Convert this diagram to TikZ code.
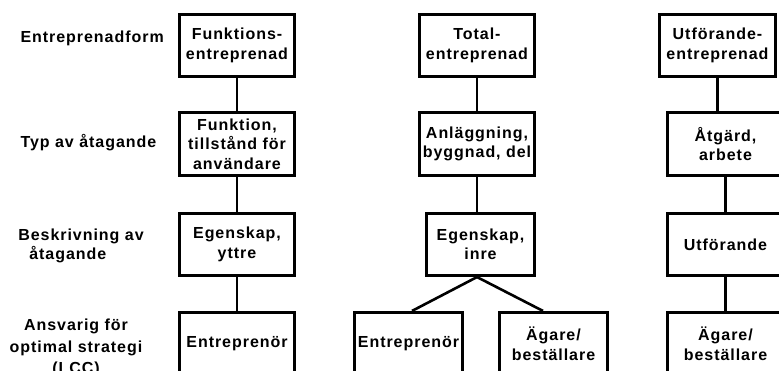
\documentclass[tikz,border=0pt]{standalone}
\usepackage{fontspec}
\setmainfont{Liberation Sans}[LetterSpace=6]
\usetikzlibrary{calc}

\begin{document}
\begin{tikzpicture}[x=1pt, y=-1pt, font=\fontsize{16}{19.5}\selectfont\bfseries]
  % Styles for the boxes and the lines between them
  \tikzset{
    box/.style={draw, line width=2.6pt, align=center,
      minimum width=115.5pt, minimum height=62.5pt, inner sep=1pt},
    narrowbox/.style={box, minimum width=108.5pt},
    link/.style={line width=2.6pt}
  }

  \useasboundingbox (0,0) rectangle (779,371);
  \clip (0,0) rectangle (779,371);

  % Row labels on the left
  \node[anchor=base west] (lform) at (17,43) {Entreprenadform};
  \node[anchor=base west] (ltyp) at (17,148) {Typ av åtagande};
  \node[align=left] (lbesk) at (81,246) {Beskrivning av\\\hspace{11pt}åtagande};
  \node[align=center, font=\fontsize{16}{21.5}\selectfont\bfseries] (lansv) at (76,348)
    {Ansvarig för\\optimal strategi\\(LCC)};

  % Funktionsentreprenad
  \node[box] (funk) at (237,45.5) {Funktions-\\entreprenad};
  \node[box] (funktyp) at (237,144) {Funktion,\\tillstånd för\\användare};
  \node[box] (funkbesk) at (237,244.5) {Egenskap,\\yttre};
  \node[box] (funkansv) at (237,343.5) {Entreprenör};

  % Totalentreprenad
  \node[box] (total) at (477,45.5) {Total-\\entreprenad};
  \node[box] (totaltyp) at (477,144) {Anläggning,\\byggnad, del};
  \node[narrowbox] (totalbesk) at (480.5,244.5) {Egenskap,\\inre};
  \node[narrowbox] (totalentr) at (408.5,343.5) {Entreprenör};
  \node[narrowbox] (totalagare) at (553.5,343.5) {Ägare/\\beställare};

  % Utförandeentreprenad
  \node[box, minimum width=116.5pt] (utf) at (717.5,45.5) {Utförande-\\entreprenad};
  \node[box] (utftyp) at (725.5,144) {Åtgärd,\\arbete};
  \node[box] (utfbesk) at (725.5,244.5) {Utförande};
  \node[box] (utfagare) at (725.5,343.5) {Ägare/\\beställare};

  % Connectors
  \draw[link] (funk) -- (funktyp);
  \draw[link] (funktyp) -- (funkbesk);
  \draw[link] (funkbesk) -- (funkansv);

  \draw[link] (total) -- (totaltyp);
  \draw[link] (totaltyp.south) -- (totaltyp.south |- totalbesk.north);
  \coordinate (apex) at (totaltyp.south |- totalbesk.south);
  \draw[link] ([xshift=3.5pt]totalentr.north) -- (apex) -- ([xshift=-10.5pt]totalagare.north);

  \draw[link] (utf.south) -- (utf.south |- utftyp.north);
  \draw[link] (utftyp) -- (utfbesk);
  \draw[link] (utfbesk) -- (utfagare);
\end{tikzpicture}
\end{document}
